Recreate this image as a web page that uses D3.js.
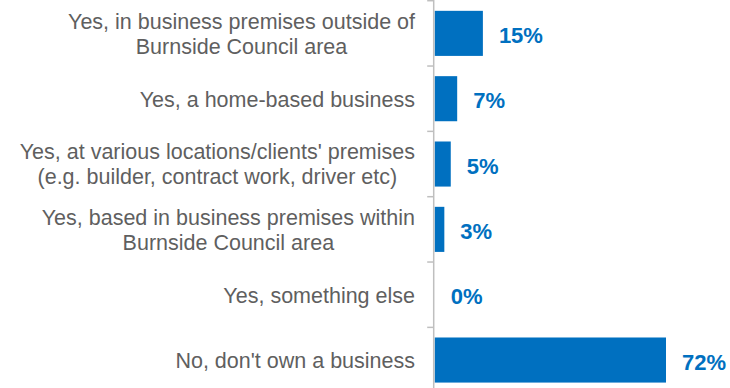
<!DOCTYPE html>
<html>
<head>
<meta charset="utf-8">
<script src="https://cdn.jsdelivr.net/npm/d3@7"></script>
<style>
  html, body { margin: 0; padding: 0; background: #fff; }
  svg { display: block; }
</style>
</head>
<body>
<svg id="chart" width="730" height="388"></svg>
<script>
const categories = [
  ["Yes, in business premises outside of", "Burnside Council area"],
  ["Yes, a home-based business"],
  ["Yes, at various locations/clients' premises", "(e.g. builder, contract work, driver etc)"],
  ["Yes, based in business premises within", "Burnside Council area"],
  ["Yes, something else"],
  ["No, don't own a business"]
];
const values = [15, 7, 5, 3, 0, 72];

const W = 730, H = 388;
const axisX = 433.7;
const barStart = 434.7;
const labelRight = 415;
const fontFamily = "'Liberation Sans', Arial, sans-serif";

const svg = d3.select("#chart");

const y = d3.scaleBand()
  .domain(d3.range(categories.length))
  .range([0.7, 392.7])
  .paddingInner(0.31)
  .paddingOuter(0.155);

const x = d3.scaleLinear().domain([0, 72]).range([barStart, 666]);

const step = y.step();
const boundaries = d3.range(categories.length + 1).map(i => 0.7 + i * step);

// bars
svg.append("g").selectAll("rect")
  .data(values)
  .join("rect")
  .attr("x", barStart)
  .attr("y", (d, i) => y(i))
  .attr("width", d => Math.max(0, x(d) - barStart))
  .attr("height", y.bandwidth())
  .attr("fill", "#0070C0");

// axis line and ticks
const axisG = svg.append("g").attr("stroke", "#BFBFBF").attr("stroke-width", 1.5);
axisG.append("line")
  .attr("x1", axisX).attr("x2", axisX)
  .attr("y1", 0).attr("y2", H);
axisG.selectAll("line.tick")
  .data(boundaries)
  .join("line")
  .attr("class", "tick")
  .attr("x1", axisX - 6.5).attr("x2", axisX)
  .attr("y1", d => d).attr("y2", d => d);

// category labels
const lineH = 25;
const catG = svg.append("g")
  .attr("font-family", fontFamily)
  .attr("font-size", 21.5)
  .attr("fill", "#5f5f5f");

categories.forEach((lines, i) => {
  const cy = y(i) + y.bandwidth() / 2;
  const t = catG.append("text").attr("text-anchor", "middle");
  const spans = lines.map((ln, j) =>
    t.append("tspan")
      .attr("y", cy - (lines.length - 1) * lineH / 2 + 7.8 + j * lineH)
      .text(ln));
  const maxW = d3.max(spans, s => s.node().getComputedTextLength());
  const cx = labelRight - maxW / 2;
  spans.forEach(s => s.attr("x", cx));
});

// value labels
svg.append("g")
  .attr("font-family", fontFamily)
  .attr("font-size", 22)
  .attr("font-weight", "bold")
  .attr("fill", "#0070C0")
  .selectAll("text")
  .data(values)
  .join("text")
  .attr("x", d => x(d) + 16)
  .attr("y", (d, i) => y(i) + y.bandwidth() / 2 + 9.5)
  .text(d => d3.format("d")(d) + "%");
</script>
</body>
</html>
